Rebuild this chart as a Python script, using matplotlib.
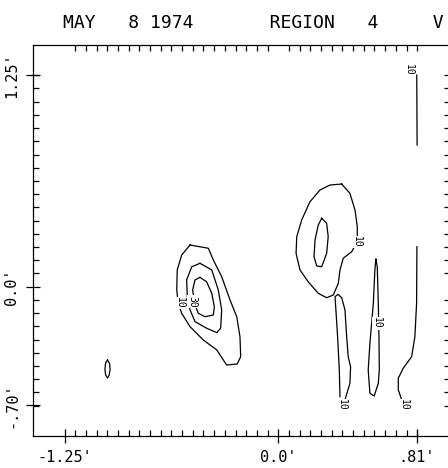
import numpy as np
import matplotlib.pyplot as plt

# contour traces (arc minutes)
# source near the centre-left: levels 10, 20, 30
left10_x = [-0.516, -0.409, -0.380, -0.331, -0.282, -0.243, -0.224, -0.220, -0.240, -0.302,
            -0.360, -0.439, -0.516, -0.565, -0.585, -0.594, -0.591, -0.565]
left10_y = [0.246, 0.227, 0.158, 0.059, -0.079, -0.177, -0.295, -0.413, -0.456, -0.462,
            -0.373, -0.314, -0.236, -0.157, -0.098, -0.019, 0.099, 0.187]
left20_x = [-0.458, -0.389, -0.351, -0.331, -0.337, -0.360, -0.419, -0.487, -0.516, -0.532,
            -0.536, -0.506]
left20_y = [0.138, 0.099, -0.019, -0.137, -0.245, -0.271, -0.245, -0.206, -0.137, -0.059,
            0.040, 0.118]
left30_x = [-0.458, -0.419, -0.389, -0.374, -0.380, -0.429, -0.468, -0.487, -0.501, -0.487]
left30_y = [0.055, 0.029, -0.039, -0.118, -0.167, -0.177, -0.157, -0.108, -0.019, 0.040]

# small blip far left
blip_x = [-0.999, -0.986, -0.984, -0.990, -0.999, -1.010, -1.014, -1.010]
blip_y = [-0.433, -0.455, -0.490, -0.525, -0.539, -0.520, -0.486, -0.450]

# source on the right: levels 10 and 20
right10_x = [0.371, 0.419, 0.449, 0.462, 0.462, 0.429, 0.380, 0.361, 0.351, 0.322,
             0.283, 0.234, 0.175, 0.127, 0.104, 0.108, 0.137, 0.185, 0.244, 0.302]
right10_y = [0.606, 0.551, 0.452, 0.354, 0.265, 0.206, 0.168, 0.099, 0.020, -0.049,
             -0.065, -0.039, 0.029, 0.099, 0.197, 0.295, 0.394, 0.501, 0.571, 0.600]
right20_x = [0.254, 0.283, 0.292, 0.283, 0.254, 0.225, 0.209, 0.215, 0.234]
right20_y = [0.404, 0.374, 0.295, 0.197, 0.118, 0.122, 0.177, 0.276, 0.364]

# open level-10 tongue reaching the lower edge
tongue_x = [0.361, 0.357, 0.347, 0.337, 0.332, 0.349, 0.371, 0.390, 0.400, 0.409, 0.423,
            0.419, 0.390]
tongue_y = [-0.649, -0.491, -0.295, -0.137, -0.059, -0.045, -0.065, -0.137, -0.295, -0.413,
            -0.472, -0.570, -0.668]

# narrow closed level-10 contour
narrow_x = [0.571, 0.579, 0.585, 0.589, 0.591, 0.585, 0.561, 0.536, 0.526, 0.536, 0.556, 0.565]
narrow_y = [0.162, 0.118, -0.098, -0.295, -0.491, -0.570, -0.645, -0.629, -0.491, -0.334,
            -0.098, 0.099]

# level-10 lines along the right edge of the map
edge_top_x = [0.810, 0.812]
edge_top_y = [1.249, 0.836]
edge_low_x = [0.811, 0.809, 0.799, 0.780, 0.731, 0.702, 0.702, 0.722]
edge_low_y = [0.236, -0.098, -0.295, -0.413, -0.481, -0.540, -0.609, -0.668]

# contour labels: (text, x, y)
label_text = ["10", "30", "10", "10", "10", "10", "10"]
label_x = [-0.577, -0.500, 0.462, 0.373, 0.577, 0.765, 0.735]
label_y = [-0.096, -0.088, 0.265, -0.700, -0.216, 1.280, -0.700]

x_ticks = [-1.25, 0.0, 0.81]
x_labels = ["-1.25'", "0.0'", ".81'"]
y_ticks = [-0.70, 0.0, 1.25]
y_labels = ["-.70'", "0.0'", "1.25'"]

font = "DejaVu Sans Mono"

fig = plt.figure(figsize=(4.48, 4.68), dpi=100)
ax = fig.add_axes([0.0743, 0.0684, 0.930, 0.836])

closed_sets = [(left10_x, left10_y), (left20_x, left20_y), (left30_x, left30_y),
               (blip_x, blip_y), (right10_x, right10_y), (right20_x, right20_y),
               (narrow_x, narrow_y)]
for xs, ys in closed_sets:
    ax.plot(xs + xs[:1], ys + ys[:1], color="black", lw=0.9, solid_joinstyle="round")
for xs, ys in [(tongue_x, tongue_y), (edge_top_x, edge_top_y), (edge_low_x, edge_low_y)]:
    ax.plot(xs, ys, color="black", lw=0.9, solid_joinstyle="round")

for t, x, y in zip(label_text, label_x, label_y):
    ax.text(x, y, t, rotation=-90, ha="center", va="center", fontsize=7, family=font,
            bbox=dict(facecolor="white", edgecolor="none", pad=0.3))

ax.set_xlim(-1.433, 1.004)
ax.set_ylim(-0.881, 1.428)

ax.set_xticks(x_ticks)
ax.set_xticklabels(x_labels, family=font, fontsize=11)
ax.set_yticks(y_ticks)
ax.set_yticklabels(y_labels, family=font, fontsize=11, rotation=90, va="center")
ax.set_xticks(np.arange(-20, 14) * 0.0625, minor=True)
ax.set_yticks(np.arange(-9, 17) * 0.078, minor=True)

ax.tick_params(which="major", direction="inout", length=10.5, width=0.9, pad=5)
ax.tick_params(which="minor", direction="in", length=4, width=0.9,
               top=True, right=True)
for s in ax.spines.values():
    s.set_linewidth(0.9)

fig.text(63 / 448, 1 - 28 / 468, "MAY   8 1974       REGION   4     V",
         family=font, fontsize=13, va="baseline", ha="left")

fig.savefig("out.png", dpi=100, facecolor="white")
